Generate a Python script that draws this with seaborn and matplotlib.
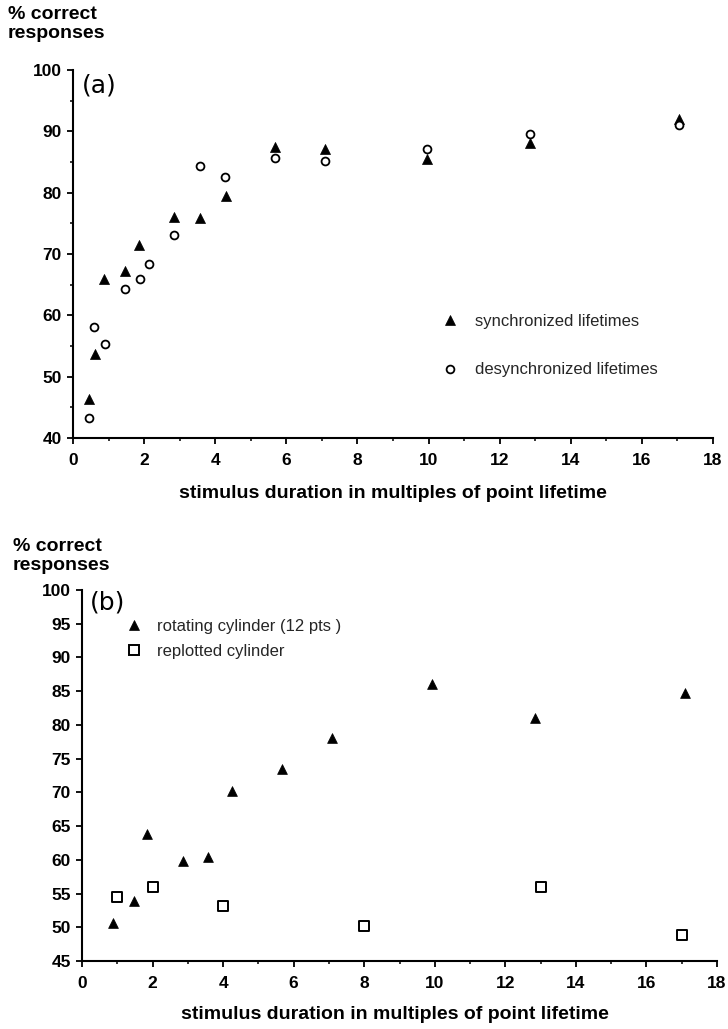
import matplotlib
matplotlib.use("Agg")
import matplotlib.pyplot as plt
from matplotlib.lines import Line2D
from matplotlib.ticker import MultipleLocator
import seaborn as sns
import pandas as pd

# ---------------- data ----------------
# panel (a)
sync_x = [0.45, 0.61, 0.87, 1.45, 1.86, 2.85, 3.57, 4.30, 5.68, 7.10, 9.95, 12.84, 17.05]
sync_y = [46.3, 53.7, 65.9, 67.2, 71.5, 76.1, 75.9, 79.5, 87.5, 87.1, 85.5, 88.1, 92.0]
desync_x = [0.45, 0.59, 0.90, 1.46, 1.88, 2.14, 2.85, 3.56, 4.28, 5.68, 7.10, 9.95, 12.84, 17.05]
desync_y = [43.2, 58.1, 55.4, 64.3, 65.9, 68.3, 73.1, 84.4, 82.5, 85.6, 85.2, 87.1, 89.6, 91.1]
# panel (b)
rot_x = [0.89, 1.46, 1.84, 2.85, 3.58, 4.26, 5.67, 7.10, 9.93, 12.83, 17.08]
rot_y = [50.6, 53.9, 63.8, 59.8, 60.4, 70.2, 73.5, 78.0, 86.0, 81.0, 84.8]
rep_x = [1.0, 2.0, 4.0, 8.0, 13.0, 17.0]
rep_y = [54.5, 55.9, 53.1, 50.2, 56.0, 48.8]

labels_a = ["synchronized lifetimes", "desynchronized lifetimes"]
labels_b = ["rotating cylinder (12 pts )", "replotted cylinder"]
xlabel = "stimulus duration in multiples of point lifetime"
ylabel = "% correct\nresponses"

# ---------------- style ----------------
sns.set_theme(style="ticks")
plt.rcParams["font.family"] = ["Liberation Sans", "DejaVu Sans"]
plt.rcParams["axes.linewidth"] = 1.5

W, H = 728, 1029
fig = plt.figure(figsize=(W / 100, H / 100), dpi=100)

def px_axes(l, t, r, b):
    return fig.add_axes([l / W, 1 - b / H, (r - l) / W, (b - t) / H])

ax1 = px_axes(73, 70, 713, 438)
ax2 = px_axes(82, 590, 717, 961)

def style_axis(ax, ylim, ymaj, ymin):
    ax.set_xlim(0, 18)
    ax.set_ylim(*ylim)
    ax.xaxis.set_major_locator(MultipleLocator(2))
    ax.xaxis.set_minor_locator(MultipleLocator(1))
    ax.yaxis.set_major_locator(MultipleLocator(ymaj))
    if ymin:
        ax.yaxis.set_minor_locator(MultipleLocator(ymin))
    sns.despine(ax=ax)
    ax.spines["left"].set_color("black")
    ax.spines["bottom"].set_color("black")
    ax.tick_params(axis="both", which="major", direction="out", length=4,
                   width=1.3, color="black", labelsize=12.5, labelcolor="black")
    ax.tick_params(axis="both", which="minor", direction="out", length=2.5,
                   width=1.1, color="black")
    ax.tick_params(axis="x", which="major", pad=7)
    ax.tick_params(axis="y", which="major", pad=4)
    for lab in ax.get_xticklabels() + ax.get_yticklabels():
        lab.set_fontweight("bold")
    ax.set_xlabel(xlabel, fontsize=14, fontweight="bold", color="black")
    ax.set_ylabel("")
    ax.grid(False)

def scatter(ax, xs, ys, marker, s, filled, lw):
    df = pd.DataFrame({"x": xs, "y": ys})
    sns.scatterplot(data=df, x="x", y="y", marker=marker, s=s, ax=ax,
                    color="black", legend=False, clip_on=False)
    coll = ax.collections[-1]
    coll.set_facecolor("black" if filled else "white")
    coll.set_edgecolor("black")
    coll.set_linewidth(lw)

# panel (a)
scatter(ax1, sync_x, sync_y, "^", 52, True, 0.5)
scatter(ax1, desync_x, desync_y, "o", 32, False, 1.3)
style_axis(ax1, (40, 100), 10, 5)
ax1.xaxis.set_label_coords(0.5, -0.128)
ax1.xaxis.label.set_va("top")
ax1.text(0.014, 0.959, "(a)", transform=ax1.transAxes, fontsize=18,
         va="center", ha="left", family=["DejaVu Sans"], color="black")

h_a = [Line2D([], [], ls="", marker="^", ms=7.2, mfc="black", mec="black", mew=0.5),
       Line2D([], [], ls="", marker="o", ms=5.6, mfc="white", mec="black", mew=1.3)]
leg1 = ax1.legend(h_a, labels_a, loc="upper left",
                  bbox_to_anchor=(441.7 / W, 1 - 314 / H), bbox_transform=fig.transFigure,
                  frameon=False, fontsize=12, handlelength=1.0, handletextpad=1.0,
                  labelspacing=2.0, borderpad=0, borderaxespad=0)

# panel (b)
scatter(ax2, rot_x, rot_y, "^", 50, True, 0.5)
scatter(ax2, rep_x, rep_y, "s", 52, False, 1.4)
style_axis(ax2, (45, 100), 5, None)
ax2.xaxis.set_label_coords(0.493, -0.12)
ax2.xaxis.label.set_va("top")
ax2.text(0.0126, 0.965, "(b)", transform=ax2.transAxes, fontsize=18,
         va="center", ha="left", family=["DejaVu Sans"], color="black")

h_b = [Line2D([], [], ls="", marker="^", ms=7.0, mfc="black", mec="black", mew=0.5),
       Line2D([], [], ls="", marker="s", ms=7.0, mfc="white", mec="black", mew=1.4)]
leg2 = ax2.legend(h_b, labels_b, loc="upper left",
                  bbox_to_anchor=(125.2 / W, 1 - 619 / H), bbox_transform=fig.transFigure,
                  frameon=False, fontsize=12, handlelength=1.0, handletextpad=0.9,
                  labelspacing=0.6, borderpad=0, borderaxespad=0)

# y-axis titles
fig.text(8 / W, 1 - 6 / H, ylabel, fontsize=14, fontweight="bold", va="top",
         ha="left", linespacing=1.15, color="black")
fig.text(13 / W, 1 - 538 / H, ylabel, fontsize=14, fontweight="bold", va="top",
         ha="left", linespacing=1.15, color="black")

fig.savefig("out.png", dpi=100, facecolor="white")
